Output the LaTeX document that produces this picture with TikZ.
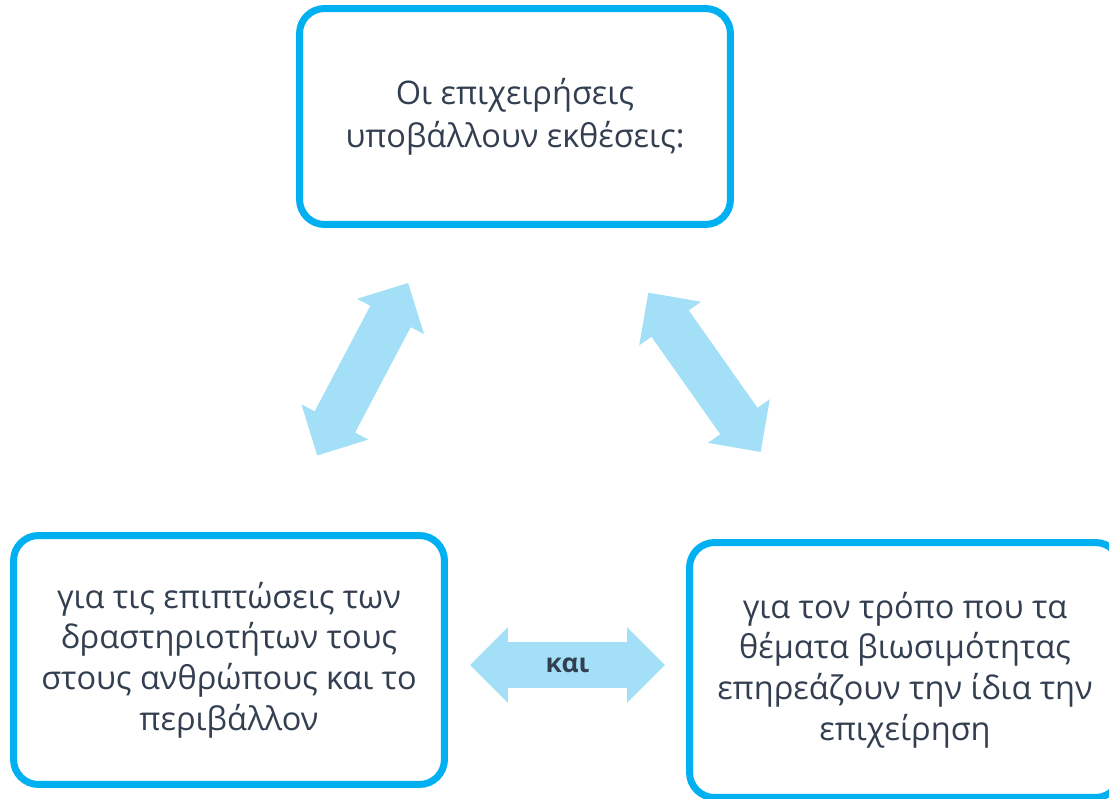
\documentclass[tikz,border=0pt]{standalone}
\usepackage{fontspec}
\setmainfont{Open Sans}
\usepackage{xcolor}
\usetikzlibrary{shapes, arrows.meta, positioning}
\definecolor{kyano}{RGB}{0,176,240}
\definecolor{anoixto}{RGB}{163,224,248}
\definecolor{keimeno}{RGB}{51,63,80}
\tikzset{
  kouti/.style={draw=kyano, line width=0.14cm, rounded corners=0.5cm, minimum width=8.62cm,
    align=center, text=keimeno, font=\fontsize{18.5}{23.2}\selectfont},
  velos/.style={double arrow, fill=anoixto, draw=none, inner sep=0pt, text height=0.6cm,
    text depth=0.3cm, minimum height=3.9cm, double arrow head extend=0.3cm}
}
\begin{document}
\begin{tikzpicture}[x=0.02cm, y=-0.02cm]
  \clip (0,0) rectangle (1109,798);
  % Πάνω κουτί
  \node[kouti, minimum height=4.32cm, font=\fontsize{18.5}{24.5}\selectfont] (pano) at (515,116.5)
    {Οι επιχειρήσεις\\υποβάλλουν εκθέσεις:};
  % Κάτω αριστερά
  \node[kouti, minimum height=4.98cm] (aristera) at (229,660)
    {για τις επιπτώσεις των\\δραστηριοτήτων τους\\στους ανθρώπους και το\\περιβάλλον};
  % Κάτω δεξιά (κόβεται στην άκρη)
  \node[kouti, minimum height=5.1cm] (dexia) at (905,670)
    {για τον τρόπο που τα\\θέματα βιωσιμότητας\\επηρεάζουν την ίδια την\\επιχείρηση};
  % Διπλά βέλη
  \node[velos, rotate=62.2] (velosA) at (362.7,369.2) {};
  \node[velos, rotate=-54.8] (velosD) at (704.5,372.3) {};
  % Βέλος στη μέση με το 'και'
  \node[velos, text=keimeno, font=\bfseries\fontsize{15}{18}\selectfont] (velosK) at (567.5,665) {και};
\end{tikzpicture}
\end{document}
